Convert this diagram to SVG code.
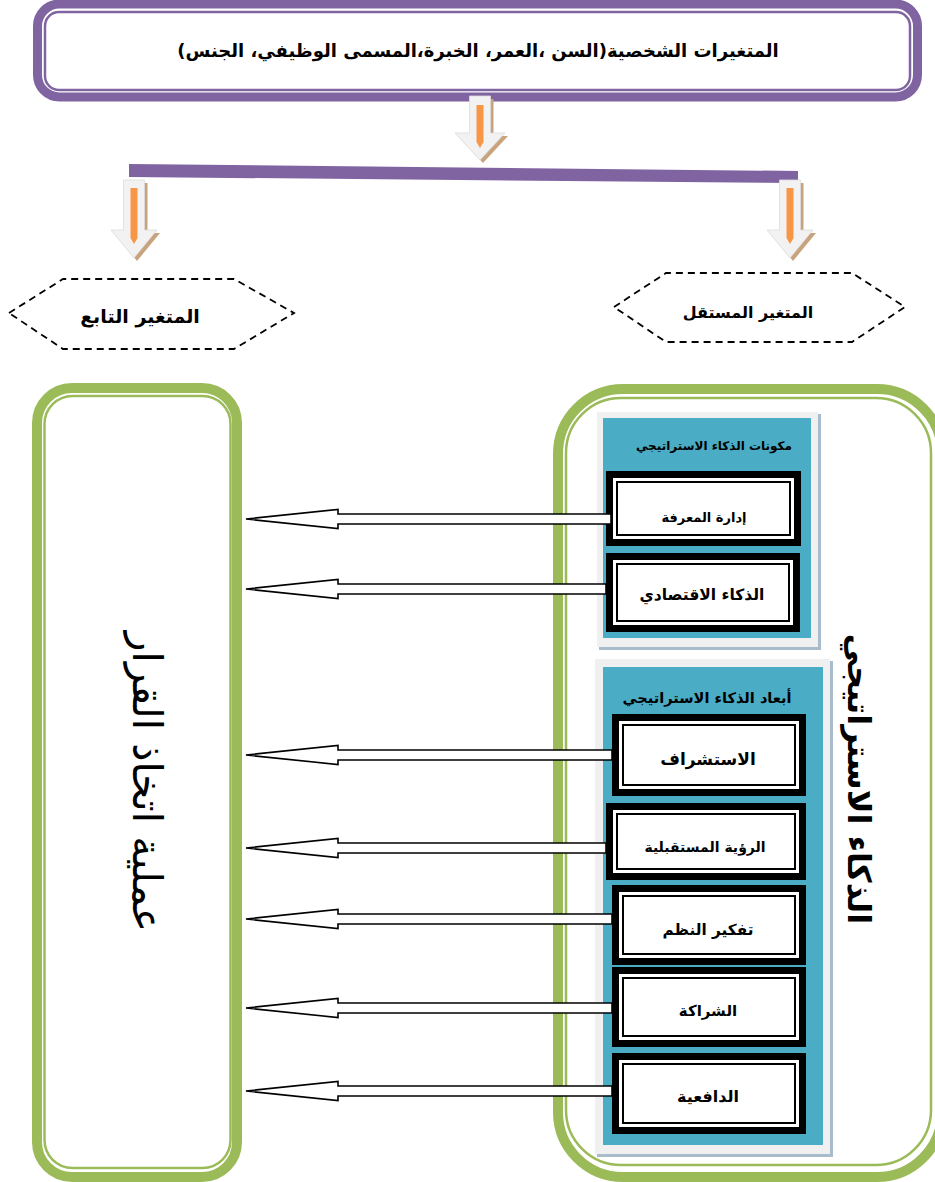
<svg xmlns="http://www.w3.org/2000/svg" width="935" height="1182" viewBox="0 0 935 1182">
<style>
.ar{font-family:"DejaVu Sans",sans-serif;font-weight:bold;fill:#000;direction:rtl;text-anchor:middle}
.pur{fill:none;stroke:#8064a2}
.grn{fill:none;stroke:#9bbb59}
.hex{fill:#fff;stroke:#000;stroke-width:1.8;stroke-dasharray:7 5}
.conn{fill:#fff;stroke:#000;stroke-width:1.6;stroke-linejoin:miter}
.blk{fill:#000}
.wht{fill:#fff}
.inl{fill:none;stroke:#000;stroke-width:2}
.frame{fill:#f0f0f0}
.fsh{fill:#a9bccb}
.blue{fill:#4bacc6}
.dshadow{fill:#c9a27e}
.dbody{fill:#f2f2f2;stroke:#dcdcdc;stroke-width:0.8}
.dor{fill:#f79646}
</style>
<rect width="935" height="1182" fill="#fff"/>

<g id="top-box">
<rect class="pur" x="37.5" y="4" width="880" height="93" rx="22" stroke-width="9"/>
<rect class="pur" x="45" y="12" width="865" height="78" rx="14" stroke-width="2.5"/>
<text class="ar" x="478" y="57" font-size="18">المتغيرات الشخصية(السن ،العمر، الخبرة،المسمى الوظيفي، الجنس)</text>
</g>

<g id="connectors-top">
<g id="down-arrow-center">
<polygon class="dshadow" transform="translate(3,3)" points="469.5,96 490.5,96 490.5,133 505,133 480,160 455,133 469.5,133"/>
<polygon class="dbody" points="469.5,96 490.5,96 490.5,133 505,133 480,160 455,133 469.5,133"/>
<polygon class="dor" points="476.5,105 483.5,105 483.5,142 480,148 476.5,142"/>
</g>
<polygon id="split-bar" fill="#8064a2" points="129,164 798,171 798,183 129,177"/>
<g id="down-arrow-left">
<polygon class="dshadow" transform="translate(3,3)" points="123.5,180 144.5,180 144.5,230 157,230 134,258 111,230 123.5,230"/>
<polygon class="dbody" points="123.5,180 144.5,180 144.5,230 157,230 134,258 111,230 123.5,230"/>
<polygon class="dor" points="130.5,188 137.5,188 137.5,238 134,244 130.5,238"/>
</g>
<g id="down-arrow-right">
<polygon class="dshadow" transform="translate(3,3)" points="779.5,180 800.5,180 800.5,230 813,230 790,258 767,230 779.5,230"/>
<polygon class="dbody" points="779.5,180 800.5,180 800.5,230 813,230 790,258 767,230 779.5,230"/>
<polygon class="dor" points="786.5,188 793.5,188 793.5,238 790,244 786.5,238"/>
</g>
</g>

<g id="hex-dependent">
<polygon class="hex" points="9,313 63,279 234,279 294,313 234,349 63,349"/>
<text class="ar" x="140" y="323" font-size="19">المتغير التابع</text>
</g>
<g id="hex-independent">
<polygon class="hex" points="614,307 666,273 852,273 905,307 852,342 666,342"/>
<text class="ar" x="748" y="318" font-size="16">المتغير المستقل</text>
</g>

<g id="decision-box">
<rect class="grn" x="37" y="388" width="200" height="789" rx="35" stroke-width="10"/>
<rect class="grn" x="44.5" y="396" width="186" height="772" rx="28" stroke-width="2.5"/>
<text class="ar" style="font-weight:normal" font-size="41" dominant-baseline="central" transform="translate(147,782) rotate(90)">عملية اتخاذ القرار</text>
</g>

<g id="strategic-box">
<rect class="grn" x="558" y="389" width="384" height="788" rx="65" stroke-width="10"/>
<rect class="grn" x="566" y="398" width="365" height="767" rx="55" stroke-width="2.5"/>
<text class="ar" font-size="32" dominant-baseline="central" transform="translate(859,779) rotate(90)">الذكاء الاستراتيجي</text>
</g>

<g id="components-panel">
<rect class="fsh" x="599" y="414" width="222" height="236"/>
<rect class="frame" x="597" y="412" width="221" height="235"/>
<rect class="blue" x="603" y="418" width="208" height="220"/>
<text class="ar" x="714" y="450" font-size="12">مكونات الذكاء الاستراتيجي</text>
</g>

<g id="dimensions-panel">
<rect class="fsh" x="597" y="661" width="236" height="496"/>
<rect class="frame" x="595" y="659" width="235" height="495"/>
<rect class="blue" x="603" y="667" width="220" height="478"/>
<text class="ar" x="707" y="703" font-size="14.6">أبعاد الذكاء الاستراتيجي</text>
</g>

<g id="node-knowledge">
<rect class="blk" x="606" y="471" width="195" height="75"/>
<rect class="wht" x="613" y="478" width="181" height="61"/>
<rect class="inl" x="617" y="482" width="173" height="53"/>
<text class="ar" x="704" y="522" font-size="13">إدارة المعرفة</text>
</g>
<g id="node-economic">
<rect class="blk" x="606" y="553" width="194" height="79"/>
<rect class="wht" x="613" y="560" width="180" height="65"/>
<rect class="inl" x="617" y="564" width="172" height="57"/>
<text class="ar" x="702" y="600" font-size="15.5">الذكاء الاقتصادي</text>
</g>
<g id="node-foresight">
<rect class="blk" x="612" y="714" width="194" height="82"/>
<rect class="wht" x="619" y="721" width="180" height="68"/>
<rect class="inl" x="623" y="725" width="172" height="60"/>
<text class="ar" x="708" y="765" font-size="17">الاستشراف</text>
</g>
<g id="node-vision">
<rect class="blk" x="606" y="803" width="200" height="77"/>
<rect class="wht" x="613" y="810" width="186" height="63"/>
<rect class="inl" x="617" y="814" width="178" height="55"/>
<text class="ar" x="705" y="852" font-size="14">الرؤية المستقبلية</text>
</g>
<g id="node-systems">
<rect class="blk" x="612" y="885" width="194" height="80"/>
<rect class="wht" x="619" y="892" width="180" height="66"/>
<rect class="inl" x="623" y="896" width="172" height="58"/>
<text class="ar" x="708" y="935" font-size="15.3">تفكير النظم</text>
</g>
<g id="node-partnership">
<rect class="blk" x="612" y="967" width="194" height="80"/>
<rect class="wht" x="619" y="974" width="180" height="66"/>
<rect class="inl" x="623" y="978" width="172" height="58"/>
<text class="ar" x="708" y="1016" font-size="15">الشراكة</text>
</g>
<g id="node-motivation">
<rect class="blk" x="612" y="1053" width="194" height="81"/>
<rect class="wht" x="619" y="1060" width="180" height="67"/>
<rect class="inl" x="623" y="1064" width="172" height="59"/>
<text class="ar" x="708" y="1102" font-size="16">الدافعية</text>
</g>

<g id="connectors">
<polygon class="conn" points="246,519 338,509.5 338,514 611,514 611,524 338,524 338,528.5"/>
<polygon class="conn" points="246,589 338,579.5 338,584 606,584 606,594 338,594 338,598.5"/>
<polygon class="conn" points="246,755 338,745.5 338,750 612,750 612,760 338,760 338,764.5"/>
<polygon class="conn" points="246,848 338,838.5 338,843 606,843 606,853 338,853 338,857.5"/>
<polygon class="conn" points="246,919 338,909.5 338,914 612,914 612,924 338,924 338,928.5"/>
<polygon class="conn" points="246,1008 338,998.5 338,1003 612,1003 612,1013 338,1013 338,1017.5"/>
<polygon class="conn" points="246,1091 338,1081.5 338,1086 612,1086 612,1096 338,1096 338,1100.5"/>
</g>
</svg>
